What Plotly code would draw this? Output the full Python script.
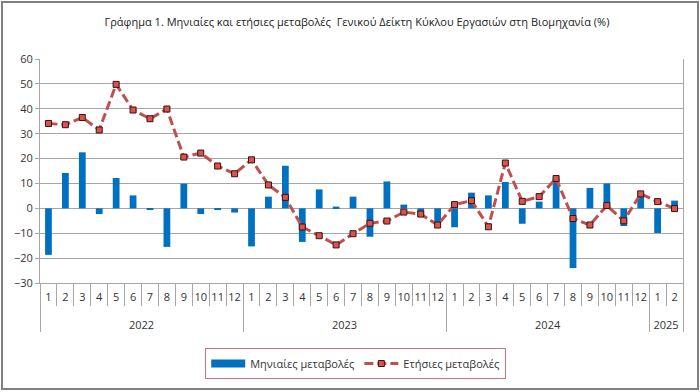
import plotly.graph_objects as go

years = ["2022"] * 12 + ["2023"] * 12 + ["2024"] * 12 + ["2025"] * 2
months = [str(m) for m in range(1, 13)] * 3 + ["1", "2"]

monthly = [-18.7, 14.2, 22.5, -2.3, 12.2, 5.2, -0.5, -15.5, 9.9, -2.3, -0.5, -1.7,
           -15.3, 4.7, 17.1, -13.5, 7.6, 0.7, 4.7, -11.4, 10.8, 1.5, -3.2, -6.3,
           -7.6, 6.3, 5.2, 10.6, -6.2, 2.7, 12.0, -24.0, 8.2, 10.0, -7.1, 5.0,
           -9.9, 3.1]

annual = [34.1, 33.6, 36.5, 31.5, 49.8, 39.5, 36.0, 39.9, 20.6, 22.2, 17.0, 13.9,
          19.5, 9.4, 4.4, -7.5, -11.0, -14.7, -10.2, -6.0, -5.1, -1.5, -2.3, -6.7,
          1.5, 3.1, -7.4, 18.2, 2.8, 4.7, 12.0, -4.1, -6.7, 1.1, -5.0, 5.8,
          2.7, -0.1]

title_text = "Γράφημα 1. Μηνιαίες και ετήσιες μεταβολές  Γενικού Δείκτη Κύκλου Εργασιών στη Βιομηχανία (%)"
name_monthly = "Μηνιαίες μεταβολές"
name_annual = "Ετήσιες μεταβολές"

# year labels pushed one line lower to leave room under the month labels
year_axis = ["<br>" + y for y in years]

FONT = "Open Sans, sans-serif"
W, H = 700, 392
ML, MR, MT, MB = 40, 17, 59, 109
PW, PH = W - ML - MR, H - MT - MB

def px_x(p):
    return (p - ML) / PW

def px_y(p):
    return (H - MB - p) / PH

fig = go.Figure()
fig.add_trace(go.Bar(
    x=[year_axis, months], y=monthly, name=name_monthly, showlegend=False,
    marker=dict(color="#0070C0", line=dict(width=0)),
))
# legend swatch for the bars (wide rectangle as in the reference)
fig.add_trace(go.Scatter(
    x=[[year_axis[0]], [months[0]]], y=[None], name=name_monthly, mode="lines",
    line=dict(color="#0070C0", width=8), showlegend=True, hoverinfo="skip",
))
fig.add_trace(go.Scatter(
    x=[year_axis, months], y=annual, name=name_annual, mode="lines+markers",
    line=dict(color="#C0504D", width=3, dash="9px,4px"),
    marker=dict(symbol="square", size=6, color="#D9534F",
                line=dict(color="#3A1010", width=1)),
))

fig.update_layout(
    width=W, height=H,
    margin=dict(l=ML, r=MR, t=MT, b=MB, autoexpand=False),
    paper_bgcolor="white", plot_bgcolor="white",
    font=dict(family=FONT, size=11, color="#333333"),
    title=dict(text=title_text, x=0.51, xanchor="center", y=1 - 22 / H, yanchor="middle",
               font=dict(family=FONT, size=11, color="#222222")),
    bargap=0.6,
    showlegend=True,
    legend=dict(orientation="h", x=0.491, xanchor="center", y=px_y(348), yanchor="top",
                bordercolor="#D07070", borderwidth=1, bgcolor="white",
                font=dict(family=FONT, size=11, color="#333333"),
                itemwidth=34, tracegroupgap=0),
    xaxis=dict(
        type="multicategory", automargin=False, showgrid=False, showline=True,
        range=[-0.5, len(months) - 0.5], autorange=False,
        linecolor="#A6A6A6", linewidth=1, tickangle=0, ticklabelstandoff=4,
        ticks="outside", tickson="boundaries", ticklen=22, tickcolor="#A6A6A6",
        showdividers=True, dividercolor="#A6A6A6", dividerwidth=1,
        tickfont=dict(family=FONT, size=11, color="#333333"),
        zeroline=False,
    ),
    yaxis=dict(
        range=[-30, 60], dtick=10, tick0=0, automargin=False,
        showgrid=True, gridcolor="#A6A6A6", gridwidth=1,
        showline=True, linecolor="#A6A6A6", linewidth=1, mirror=True,
        ticks="outside", ticklen=4, tickcolor="#A6A6A6",
        zeroline=True, zerolinecolor="#A6A6A6", zerolinewidth=1,
        tickfont=dict(family=FONT, size=11, color="#333333"),
    ),
    shapes=[dict(type="rect", xref="paper", yref="paper",
                 x0=px_x(2), x1=px_x(698), y0=px_y(389), y1=px_y(2),
                 line=dict(color="#808080", width=2), fillcolor="rgba(0,0,0,0)", layer="below")],
)

fig.write_html("out.html", config={"displayModeBar": False},
               post_script="document.body.style.margin='0px';")
